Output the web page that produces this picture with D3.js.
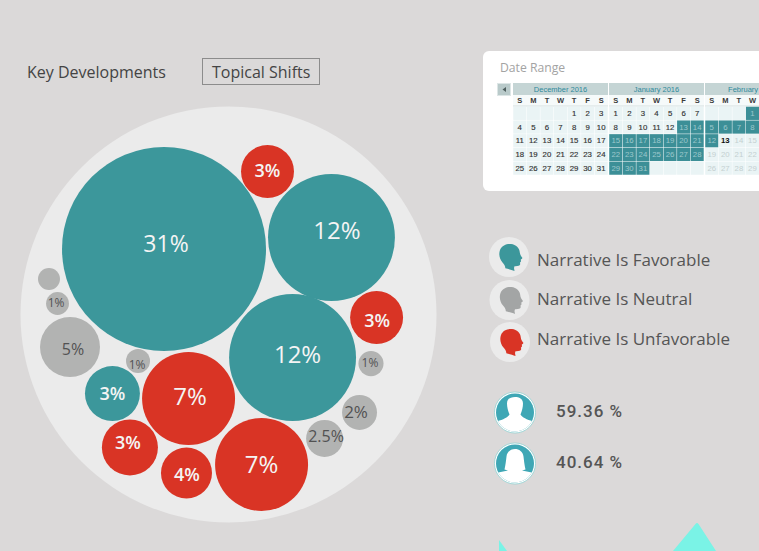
<!DOCTYPE html>
<html>
<head>
<meta charset="utf-8">
<script src="https://cdn.jsdelivr.net/npm/d3@7"></script>
<style>
  html, body { margin: 0; padding: 0; background: #dbd9d9; overflow: hidden; }
  svg { display: block; }
  text { font-family: "Open Sans", sans-serif; }
</style>
</head>
<body>
<div id="chart"></div>
<script>
// bubbles
const bubbleLabels = ["31%", "12%", "3%", "12%", "3%", "1%", "2%", "2.5%", "7%", "4%", "3%", "7%", "3%", "1%", "5%", "1%", ""];
const bubbleTones = ["fav", "fav", "unfav", "fav", "unfav", "neutral", "neutral", "neutral", "unfav", "unfav", "unfav", "unfav", "fav", "neutral", "neutral", "neutral", "neutral"];
const bubbleWeights = [31, 12, 2.09, 12, 2.09, 0.47, 0.91, 1.02, 6.44, 1.94, 2.34, 6.44, 2.25, 0.43, 2.68, 0.39, 0.36];
// place of each bubble inside the big circle, -100..100 on both axes
const packX = [-31, 49.5, 18.75, 30.8, 71.2, 68.5, 63, 46.2, 15.9, -20.2, -47.4, -19.2, -55.8, -43.5, -76.2, -82.2, -86.3];
const packY = [-31.5, -37, -68.75, 20.7, 1.4, 23.6, 47.1, 59.6, 72.1, 76.2, 63.9, 40.4, 38, 22.4, 15.6, -5.3, -17.1];

// legend and gender split
const legendLabels = ["Narrative Is Favorable", "Narrative Is Neutral", "Narrative Is Unfavorable"];
const legendTones = ["fav", "neutral", "unfav"];
const genderShares = ["59.36 %", "40.64 %"];

// calendar
const weekDays = ["S", "M", "T", "W", "T", "F", "S"];
const monthNames = ["December 2016", "January 2016", "February 2016"];
const monthStartDay = [4, 0, 3];
const monthLengths = [31, 31, 29];
const selectedFrom = [99, 13, 1];
const selectedTo = [0, 31, 12];
const todayMonth = 2, todayDate = 13;

const colors = { fav: "#3c979b", neutral: "#b2b3b2", unfav: "#d93425" };
const pageW = 759;

const svg = d3.select("#chart").append("svg")
    .attr("width", pageW)
    .attr("height", 551)
    .attr("viewBox", `0 0 ${pageW} 551`);

// tabs
svg.append("text").attr("x", 27).attr("y", 78).attr("font-size", 16).attr("fill", "#444").text("Key Developments");
svg.append("rect").attr("x", 202.5).attr("y", 58.5).attr("width", 117).attr("height", 26)
    .attr("fill", "none").attr("stroke", "#8c8c8c");
svg.append("text").attr("x", 212).attr("y", 78).attr("font-size", 16).attr("fill", "#444").text("Topical Shifts");

// bubbles
const x = d3.scaleLinear().domain([-100, 100]).range([20.5, 436.5]);
const y = d3.scaleLinear().domain([-100, 100]).range([106.5, 522.5]);
const r = d3.scaleSqrt().domain([0, 31]).range([0, 102]);

svg.append("circle").attr("cx", x(0)).attr("cy", y(0)).attr("r", x(100) - x(0)).attr("fill", "#ebebeb");

const bubbles = bubbleLabels.map((label, i) => ({
    label, tone: bubbleTones[i], weight: bubbleWeights[i], px: packX[i], py: packY[i]
}));

svg.append("g").selectAll("circle").data(bubbles).enter().append("circle")
    .attr("cx", d => x(d.px))
    .attr("cy", d => y(d.py))
    .attr("r", d => r(d.weight))
    .attr("fill", d => colors[d.tone]);

// labels are not quite centered in the original
const nudgeX = [2, 5.5, 0, 5, 0.5, -1, -3.5, 1.5, 0, 0.5, -2, 1.5, 0, -1, 3, -1.5, 0];
const nudgeY = [-6, -8.5, -2, -4.5, 2.5, -1.5, -0.5, -2.5, -0.5, 1, -5, -3.5, -0.5, 3, 2, -0.5, 0];
const labelSize = [23, 24, 18, 24, 18, 12, 17, 16, 24, 18, 18, 24, 18, 12, 16, 12, 12];

svg.append("g").selectAll("text").data(bubbles).enter().append("text")
    .attr("x", (d, i) => x(d.px) + nudgeX[i])
    .attr("y", (d, i) => y(d.py) + nudgeY[i])
    .attr("text-anchor", "middle")
    .attr("dominant-baseline", "central")
    .attr("font-size", (d, i) => labelSize[i])
    .attr("font-weight", d => (d.label === "3%" || d.label === "4%") ? 600 : 500)
    .attr("fill", d => d.tone === "neutral" ? "#525252" : "#f4f4f4")
    .text(d => d.label);

// date range card
svg.append("rect").attr("x", 483).attr("y", 51).attr("width", 290).attr("height", 140).attr("rx", 6).attr("fill", "#fff");
svg.append("text").attr("x", 500).attr("y", 72).attr("font-size", 12.2).attr("fill", "#a3a3a3").text("Date Range");
svg.append("rect").attr("x", 497.5).attr("y", 83.5).attr("width", 13).attr("height", 12).attr("fill", "#b9caca").attr("stroke", "#dde6e6");
svg.append("path").attr("d", "M506,87 L502.5,89.5 L506,92Z").attr("fill", "#4f5f5f");

const cellW = 13.57, cellH = 13.7, monthW = cellW * 7 + 1;
const calX = d3.scaleLinear().domain([0, 1]).range([513, 513 + monthW]);
const cols = d3.scaleBand().domain(d3.range(7)).range([0, cellW * 7]);
const rows = d3.scaleBand().domain(d3.range(5)).range([106.5, 106.5 + cellH * 5]);
const onPage = (m, col) => calX(m) + cols(col) + cols.bandwidth() / 2 < pageW;

monthNames.forEach((name, m) => {
    const g = svg.append("g").attr("transform", `translate(${calX(m)},0)`);

    g.append("rect").attr("y", 83).attr("width", cellW * 7).attr("height", 12).attr("fill", "#c5d5d5");
    g.append("text").attr("x", cellW * 3.5).attr("y", 91.5).attr("text-anchor", "middle")
        .style("font-family", "'Liberation Sans', sans-serif").attr("font-size", 7.5).attr("fill", "#2f8a9c").text(name);

    g.append("rect").attr("y", 95).attr("width", cellW * 7).attr("height", 11).attr("fill", "#f6fafa");
    g.append("rect").attr("y", 105.5).attr("width", cellW * 7).attr("height", 1).attr("fill", "#d3dfdf");

    g.selectAll(".wd").data(weekDays.filter((d, i) => onPage(m, i))).enter().append("text")
        .attr("class", "wd")
        .attr("x", (d, i) => cols(i) + cols.bandwidth() / 2)
        .attr("y", 103)
        .attr("text-anchor", "middle")
        .style("font-family", "'Liberation Sans', sans-serif")
        .attr("font-size", 7.5).attr("font-weight", 700).attr("fill", "#3a3a3a")
        .text(d => d);

    const slots = d3.range(35).map(s => {
        const date = s - monthStartDay[m] + 1;
        return { col: s % 7, row: Math.floor(s / 7), date: date >= 1 && date <= monthLengths[m] ? date : null };
    });
    const isSelected = d => d.date && d.date >= selectedFrom[m] && d.date <= selectedTo[m];
    const isToday = d => m === todayMonth && d.date === todayDate;
    const isLate = d => m === todayMonth && d.date > todayDate;

    g.selectAll(".cell").data(slots).enter().append("rect")
        .attr("class", "cell")
        .attr("x", d => cols(d.col) + 0.25)
        .attr("y", d => rows(d.row) + 0.25)
        .attr("width", cols.bandwidth() - 0.5)
        .attr("height", rows.bandwidth() - 0.5)
        .attr("fill", d => isSelected(d) ? "#3c8f97" : "#eaf4f5");

    g.selectAll(".day").data(slots.filter(d => d.date && onPage(m, d.col))).enter().append("text")
        .attr("class", "day")
        .attr("x", d => cols(d.col) + cols.bandwidth() / 2)
        .attr("y", d => rows(d.row) + 9.5)
        .attr("text-anchor", "middle")
        .style("font-family", "'Liberation Sans', sans-serif")
        .attr("font-size", 7.8)
        .attr("font-weight", d => isSelected(d) || isLate(d) ? 400 : isToday(d) ? 700 : 500)
        .attr("stroke", d => isSelected(d) || isLate(d) || isToday(d) ? "none" : "#333")
        .attr("stroke-width", 0.15)
        .attr("fill", d => isSelected(d) ? "#9cc8cc" : isLate(d) ? "#c4d0d1" : isToday(d) ? "#111" : "#333")
        .text(d => d.date);
});

// legend with heads
const headPath = "M-3.7,11.3 C-3.5,9 -5,7.5 -6.5,5.5 C-9.5,2 -10.5,-3 -9,-7 C-7,-12 -2,-13.5 2,-13 C7,-12.5 10.5,-9 10.8,-4.5 C11,-2.5 12,-1 13.3,0.8 C13.6,1.8 12.2,2.2 11.8,2.6 L12,4.6 L11,5.5 L11.2,7.3 C10.8,9 8.5,9.3 5.5,9.2 L5,11 L5.5,14 C3,13 -1,12 -3.7,11.3Z";
const legendY = d3.scaleOrdinal().domain(legendLabels).range([257, 300, 342]);
const legendTextY = d3.scaleOrdinal().domain(legendLabels).range([266, 305, 345]);
const legendX = d3.scalePoint().domain(legendLabels).range([509, 510]).padding(0);

const legend = svg.append("g").selectAll("g").data(legendLabels).enter().append("g")
    .attr("transform", d => `translate(${legendX(d)},${legendY(d)})`);
legend.append("circle").attr("r", 20).attr("fill", "#ebebeb");
legend.append("path").attr("d", headPath).attr("fill", (d, i) => legendTones[i] === "neutral" ? "#a3a5a5" : colors[legendTones[i]]);
legend.append("text")
    .attr("x", d => 537 - legendX(d))
    .attr("y", d => legendTextY(d) - legendY(d))
    .attr("font-size", 17).attr("fill", "#555").text(d => d);

// gender split
const busts = [
    "M-20,21 L-20,10 L-17.7,8.8 C-12,7 -7,5 -5.5,2 C-7,-2 -8,-5 -8,-9 C-8,-14 -4,-15.5 0,-15.5 C4,-15.5 8,-14 8,-9 C8,-5 7,-2 5.5,2 C7,5 12,7 17.7,8.8 L20,10 L20,21Z",
    "M-20,21 L-20,11 L-16.7,9 L-7,7 L-10.5,6 C-9.5,2 -9,-3 -8.5,-7 C-8,-12 -4,-14.5 0,-14.5 C4,-14.5 8,-12 8.5,-7 C9,-3 9.5,2 10.5,6 L7,7 L16.7,9 L20,11 L20,21Z"
];
const genderY = d3.scalePoint().domain(genderShares).range([412.5, 463.5]);
const defs = svg.append("defs");
defs.append("clipPath").attr("id", "faceClip").append("circle").attr("r", 19);

const gender = svg.append("g").selectAll("g").data(genderShares).enter().append("g")
    .attr("transform", d => `translate(515,${genderY(d)})`);
gender.append("circle").attr("r", 20.5).attr("fill", "#fff").attr("stroke", "#8fd0d0").attr("stroke-width", 0.8);
gender.append("circle").attr("r", 19).attr("fill", "#3fa7b5");
gender.append("path").attr("d", (d, i) => busts[i]).attr("fill", "#fff").attr("clip-path", "url(#faceClip)");
gender.append("text").attr("x", 41).attr("y", 4)
    .style("font-family", "Roboto, sans-serif")
    .attr("font-size", 17).attr("font-weight", 500).attr("letter-spacing", 1).attr("fill", "#555")
    .text(d => d);

// corner decoration
svg.append("path").attr("d", "M695.5,524 Q697,522 698.5,524 L716,551 L673,551Z").attr("fill", "#7af3e6");
svg.append("path").attr("d", "M499,540 L507,551 L499,551Z").attr("fill", "#7af3e6");
</script>
</body>
</html>
